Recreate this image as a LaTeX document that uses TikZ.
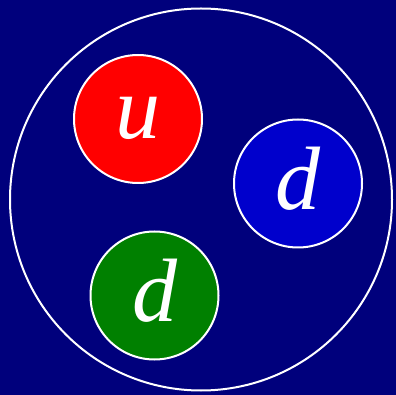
\documentclass[tikz,border=0pt]{standalone}
\usepackage{fontspec}
\setmainfont{Liberation Serif}
\definecolor{bgnavy}{RGB}{0,0,124}
\definecolor{qred}{RGB}{255,0,0}
\definecolor{qblue}{RGB}{0,0,204}
\definecolor{qgreen}{RGB}{0,128,0}
\tikzset{
  quark/.style={circle, draw=white, line width=2pt, minimum size=128pt, inner sep=0pt},
  qlabel/.style={text=white, inner sep=0pt, font=\fontsize{90}{90}\selectfont\itshape},
}
\begin{document}
\begin{tikzpicture}[x=1pt,y=-1pt]
\fill[bgnavy] (0,0) rectangle (396,395);
\useasboundingbox (0,0) rectangle (396,395);
\node[circle, draw=white, line width=2pt, minimum size=382pt, inner sep=0pt] (proton) at (201,199.5) {};
\node[quark, fill=qred] (u) at (138,119) {};
\node[quark, fill=qblue] (d1) at (298,183.5) {};
\node[quark, fill=qgreen] (d2) at (154.5,295.5) {};
\node[qlabel] (ul) at ([yshift=1pt]u.center) {u};
\node[qlabel] (d1l) at ([yshift=5pt]d1.center) {d};
\node[qlabel] (d2l) at ([yshift=5pt]d2.center) {d};
\end{tikzpicture}
\end{document}
